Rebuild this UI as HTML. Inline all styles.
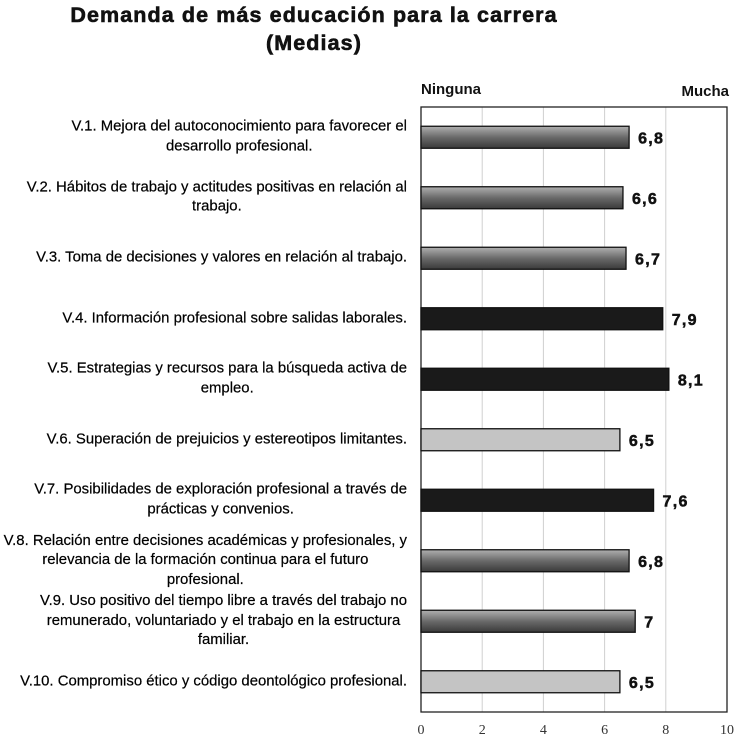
<!DOCTYPE html>
<html><head><meta charset="utf-8"><style>
body{margin:0;background:#fff;width:735px;height:738px;overflow:hidden;position:relative;font-family:"Liberation Sans",sans-serif}
.title{position:absolute;left:0;width:628px;text-align:center;font-weight:bold;font-size:21.5px;letter-spacing:1.1px;color:#111;line-height:28px;top:1px;-webkit-text-stroke:0.6px #111}
.lab{position:absolute;right:328px;text-align:center;font-size:14.9px;line-height:19.5px;color:#000;transform:translateY(-50%);white-space:nowrap;-webkit-text-stroke:0.2px #000}
svg{position:absolute;left:0;top:0}
</style></head><body>
<div class="title">Demanda de más educación para la carrera<br>(Medias)</div>
<div id="labels"></div>
<svg id="chart" width="735" height="738">
<defs><linearGradient id="g" x1="0" y1="0" x2="0" y2="1"><stop offset="0" stop-color="#b0b0b0"/><stop offset="0.5" stop-color="#6a6a6a"/><stop offset="1" stop-color="#3a3a3a"/></linearGradient></defs>
</svg>
<script>
const categories=["V.1. Mejora del autoconocimiento para favorecer el<br>desarrollo profesional.","V.2. Hábitos de trabajo y actitudes positivas en relación al<br>trabajo.","V.3. Toma de decisiones y valores en relación al trabajo.","V.4. Información profesional sobre salidas laborales.","V.5. Estrategias y recursos para la búsqueda activa de<br>empleo.","V.6. Superación de prejuicios y estereotipos limitantes.","V.7. Posibilidades de exploración profesional a través de<br>prácticas y convenios.","V.8. Relación entre decisiones académicas y profesionales, y<br>relevancia de la formación continua para el futuro<br>profesional.","V.9. Uso positivo del tiempo libre a través del trabajo no<br>remunerado, voluntariado y el trabajo en la estructura<br>familiar.","V.10. Compromiso ético y código deontológico profesional."];
const values=[6.8,6.6,6.7,7.9,8.1,6.5,7.6,6.8,7,6.5];
const valueLabels=["6,8","6,6","6,7","7,9","8,1","6,5","7,6","6,8","7","6,5"];
const groups=["g","g","g","k","k","l","k","g","g","l"];
const ticks=[0,2,4,6,8,10];
const X0=421,X1=727,Y0=107,Y1=712;
const x=v=>X0+(v/10)*(X1-X0);
const band=(Y1-Y0)/categories.length;
const yc=i=>Y0+band*(i+0.5);
const svg=document.getElementById('chart');const NS="http://www.w3.org/2000/svg";
function mk(t,a){const e=document.createElementNS(NS,t);for(const k in a)e.setAttribute(k,a[k]);svg.appendChild(e);return e;}
ticks.forEach(t=>{if(t>0&&t<10){const l=mk('line',{x1:x(t),x2:x(t),y1:Y0,y2:Y1,stroke:'#d0d0d0','stroke-width':1});

}
const tx=mk('text',{x:x(t),y:734,'text-anchor':'middle','font-size':14,fill:'#333','font-family':'Liberation Serif, serif'});tx.textContent=t;

});
const fr=mk('rect',{x:X0,y:Y0,width:X1-X0,height:Y1-Y0,fill:'none',stroke:'#222','stroke-width':1.3});


const fills={g:'url(#g)',k:'#1a1a1a',l:'#c4c4c4'};
const lab=document.getElementById('labels');
values.forEach((v,i)=>{
const r=mk('rect',{x:X0,y:yc(i)-11,width:x(v)-X0,height:22,fill:fills[groups[i]],stroke:'#111','stroke-width':1.3});


const t=mk('text',{x:x(v)+9,y:yc(i)+6,'font-size':16,'font-weight':'bold','letter-spacing':1.3,stroke:'#111','stroke-width':0.5,fill:'#111'});t.textContent=valueLabels[i];


const d=document.createElement('div');d.className='lab';d.style.top=yc(i)+'px';d.innerHTML=categories[i];


lab.appendChild(d);});
const n=mk('text',{x:421,y:94,'font-size':15,'font-weight':'bold',fill:'#111'});n.textContent='Ninguna';


const m=mk('text',{x:729,y:96,'font-size':15,'font-weight':'bold',fill:'#111','text-anchor':'end'});m.textContent='Mucha';


</script>
</body></html>
